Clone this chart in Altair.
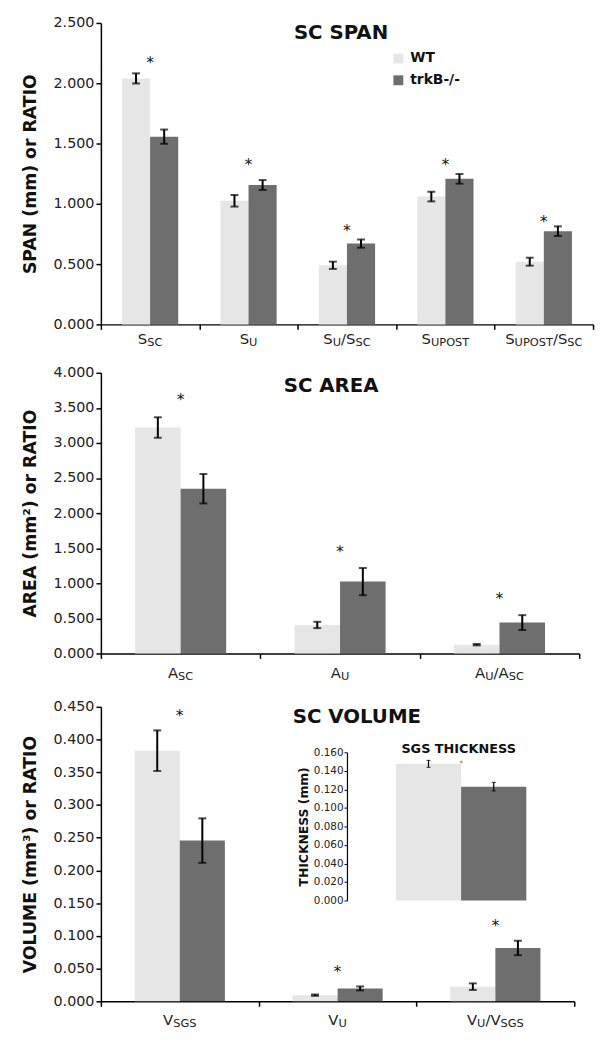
import altair as alt
import pandas as pd

FONT = "DejaVu Sans"
groups = ["WT", "trkB-/-"]
colors = ["#e6e6e6", "#6e6e6e"]

# ---- SC SPAN ----
span_cats = ["S_SC", "S_U", "S_U/S_SC", "S_UPOST", "S_UPOST/S_SC"]
span_wt = [2.04, 1.025, 0.49, 1.06, 0.52]
span_wt_err = [0.042, 0.048, 0.03, 0.04, 0.033]
span_ko = [1.557, 1.156, 0.67, 1.207, 0.773]
span_ko_err = [0.059, 0.041, 0.034, 0.04, 0.04]
span_star = [2.19, 1.347, 0.80, 1.344, 0.875]
span_ticks = [0.0, 0.5, 1.0, 1.5, 2.0, 2.5]

# ---- SC AREA ----
area_cats = ["A_SC", "A_U", "A_U/A_SC"]
area_wt = [3.22, 0.406, 0.125]
area_wt_err = [0.146, 0.045, 0.01]
area_ko = [2.348, 1.024, 0.44]
area_ko_err = [0.21, 0.194, 0.106]
area_star = [3.66, 1.49, 0.816]
area_ticks = [0.0, 0.5, 1.0, 1.5, 2.0, 2.5, 3.0, 3.5, 4.0]

# ---- SC VOLUME ----
vol_cats = ["V_SGS", "V_U", "V_U/V_SGS"]
vol_wt = [0.383, 0.0094, 0.0224]
vol_wt_err = [0.031, 0.001, 0.005]
vol_ko = [0.2456, 0.0197, 0.0815]
vol_ko_err = [0.034, 0.003, 0.011]
vol_star = [0.44, 0.0497, 0.119]
vol_ticks = [0.0, 0.05, 0.1, 0.15, 0.2, 0.25, 0.3, 0.35, 0.4, 0.45]

# ---- SGS THICKNESS (inset) ----
thick_wt = [0.1475]
thick_wt_err = [0.0037]
thick_ko = [0.1229]
thick_ko_err = [0.0046]
thick_star = [0.149]
thick_ticks = [0.0, 0.02, 0.04, 0.06, 0.08, 0.1, 0.12, 0.14, 0.16]

# DejaVu Sans advance widths (em)
CW = {"S": 0.635, "C": 0.698, "U": 0.732, "A": 0.684, "V": 0.684, "G": 0.775,
      "P": 0.603, "O": 0.787, "T": 0.611, "/": 0.337}


def segments(label):
    segs = []
    for i, piece in enumerate(label.split("/")):
        main, sub = piece.split("_")
        segs.append((("/" if i else "") + main, False))
        segs.append((sub, True))
    return segs


def frame(cats, wt, wt_err, ko, ko_err):
    rows = []
    for c, v, e in zip(cats, wt, wt_err):
        rows.append({"cat": c, "group": groups[0], "value": v, "lo": v - e, "hi": v + e})
    for c, v, e in zip(cats, ko, ko_err):
        rows.append({"cat": c, "group": groups[1], "value": v, "lo": v - e, "hi": v + e})
    return pd.DataFrame(rows)


def caps_frame(df):
    a = df[["cat", "group", "lo"]].rename(columns={"lo": "v"})
    b = df[["cat", "group", "hi"]].rename(columns={"hi": "v"})
    return pd.concat([a, b], ignore_index=True)


def panel(cats, wt, wt_err, ko, ko_err, stars, ticks, ytitle, title, W, H,
          title_pos, label_off, legend=None):
    df = frame(cats, wt, wt_err, ko, ko_err)
    caps = caps_frame(df)
    sdf = pd.DataFrame({"cat": cats, "star": stars})

    xenc = alt.X("cat:N", sort=cats,
                 scale=alt.Scale(domain=cats, paddingInner=0, paddingOuter=0),
                 axis=alt.Axis(title=None, labels=False, tickBand="extent",
                               tickSize=5, tickColor="black", tickWidth=1.5,
                               domainColor="black", domainWidth=1.5))
    xoff = alt.XOffset("group:N", sort=groups,
                       scale=alt.Scale(domain=groups, paddingInner=0, paddingOuter=0.75))
    yaxis = alt.Axis(values=ticks, format=".3f", title=ytitle, grid=False,
                     labelFontSize=14.5, labelColor="#222", labelFont=FONT,
                     tickSize=5, tickColor="black", tickWidth=1.5, labelPadding=2,
                     domainColor="black", domainWidth=1.5,
                     titleFontSize=17.5, titleFontWeight="bold", titleFont=FONT,
                     titleColor="#111", titlePadding=14)
    yscale = alt.Scale(domain=[0, ticks[-1]], nice=False, zero=True)

    color = alt.Color("group:N", sort=groups,
                      scale=alt.Scale(domain=groups, range=colors),
                      legend=legend)

    bars = alt.Chart(df).mark_bar().encode(
        x=xenc, xOffset=xoff,
        y=alt.Y("value:Q", scale=yscale, axis=yaxis),
        color=color)
    rules = alt.Chart(df).mark_rule(color="black", strokeWidth=2).encode(
        x=xenc, xOffset=xoff,
        y=alt.Y("lo:Q", scale=yscale, axis=yaxis), y2="hi:Q")
    capm = alt.Chart(caps).mark_tick(color="black", thickness=2, size=8).encode(
        x=xenc, xOffset=xoff,
        y=alt.Y("v:Q", scale=yscale, axis=yaxis))
    starm = alt.Chart(sdf).mark_text(text="*", fontSize=16, font=FONT,
                                     baseline="alphabetic", dy=8, color="#111").encode(
        x=xenc, y=alt.Y("star:Q", scale=yscale, axis=yaxis))
    tl = alt.Chart(pd.DataFrame({"t": [title]})).mark_text(
        fontSize=20, fontWeight="bold", font=FONT, baseline="middle",
        align="center", color="#111").encode(
        text="t:N", x=alt.value(title_pos[0]), y=alt.value(title_pos[1]))

    layers = [bars, rules, capm, starm, tl]
    main_fs, sub_fs = 15, 11.5
    for c in cats:
        segs = segments(c)
        widths = [sum(CW[ch] for ch in t) * (sub_fs if s else main_fs) for t, s in segs]
        x0 = -sum(widths) / 2
        for (t, s), w in zip(segs, widths):
            ldf = pd.DataFrame({"cat": [c], "t": [t]})
            layers.append(
                alt.Chart(ldf).mark_text(align="left", baseline="alphabetic", dx=x0,
                                         fontSize=sub_fs if s else main_fs, font=FONT,
                                         color="#222").encode(
                    x=xenc, y=alt.value(H + label_off + (1.5 if s else 0)), text="t:N"))
            x0 += w
    return alt.layer(*layers).properties(width=W, height=H)


leg = alt.Legend(orient="none", legendX=294, legendY=29, title=None,
                 labelFontSize=14, labelFontWeight="bold", labelFont=FONT,
                 labelColor="#111", symbolType="square", symbolSize=100,
                 symbolStrokeWidth=0, rowPadding=8, padding=0, labelOffset=5)

p1 = panel(span_cats, span_wt, span_wt_err, span_ko, span_ko_err, span_star,
           span_ticks, "SPAN (mm) or RATIO", "SC SPAN", 498, 305, (243, 10), 20, leg)
p2 = panel(area_cats, area_wt, area_wt_err, area_ko, area_ko_err, area_star,
           area_ticks, "AREA (mm²) or RATIO", "SC AREA", 484, 284, (233, 13), 25)
p3_main = panel(vol_cats, vol_wt, vol_wt_err, vol_ko, vol_ko_err, vol_star,
                vol_ticks, "VOLUME (mm³) or RATIO", "SC VOLUME", 479, 298, (259, 10), 24)

# inset
H3 = 298
ix0, ix1 = 249, 480
iy0, iy1 = 196, 46
idf = pd.DataFrame({"group": groups, "value": [thick_wt[0], thick_ko[0]],
                    "lo": [thick_wt[0] - thick_wt_err[0], thick_ko[0] - thick_ko_err[0]],
                    "hi": [thick_wt[0] + thick_wt_err[0], thick_ko[0] + thick_ko_err[0]]})
icaps = pd.concat([idf[["group", "lo"]].rename(columns={"lo": "v"}),
                   idf[["group", "hi"]].rename(columns={"hi": "v"})], ignore_index=True)
iscale_x = alt.Scale(domain=groups, range=[ix0, ix1], paddingInner=0, paddingOuter=0.75)
ixenc = alt.X("group:N", sort=groups, scale=iscale_x,
              axis=alt.Axis(orient="bottom", offset=-(H3 - iy0), labels=False, ticks=False,
                            title=None, domainColor="black", domainWidth=1.2))
iscale = alt.Scale(domain=[0, 0.16], range=[iy0, iy1], nice=False, zero=True)
iaxis = alt.Axis(orient="left", offset=-ix0, values=thick_ticks, format=".3f", grid=False,
                 labelFontSize=10.5, labelColor="#222", labelFont=FONT, tickSize=3,
                 tickColor="black", labelPadding=1, domainColor="black", domainWidth=1.2,
                 title="THICKNESS (mm)", titleFontSize=12.5, titleFontWeight="bold",
                 titleFont=FONT, titleColor="#111", titlePadding=3)
icolor = alt.Color("group:N", sort=groups, scale=alt.Scale(domain=groups, range=colors), legend=None)
ibars = alt.Chart(idf).mark_bar().encode(
    x=ixenc, y=alt.Y("value:Q", scale=iscale, axis=iaxis), color=icolor)
irules = alt.Chart(idf).mark_rule(color="black", strokeWidth=1.2).encode(
    x=ixenc, y=alt.Y("lo:Q", scale=iscale, axis=iaxis), y2="hi:Q")
icapm = alt.Chart(icaps).mark_tick(color="black", thickness=1.2, size=4).encode(
    x=ixenc, y=alt.Y("v:Q", scale=iscale, axis=iaxis))
istar = alt.Chart(pd.DataFrame({"group": [groups[0]], "star": thick_star})).mark_text(
    text="*", fontSize=6, font=FONT, baseline="alphabetic", dy=3, color="#111").encode(
    x=alt.X("group:N", sort=groups, scale=iscale_x, bandPosition=1, axis=None),
    y=alt.Y("star:Q", scale=iscale, axis=iaxis))
ititle = alt.Chart(pd.DataFrame({"t": ["SGS THICKNESS"]})).mark_text(
    fontSize=13, fontWeight="bold", font=FONT, baseline="middle", align="center",
    color="#111").encode(text="t:N", x=alt.value(362), y=alt.value(43))
inset = alt.layer(ibars, irules, icapm, istar, ititle)

p3 = alt.layer(p3_main, inset).resolve_scale(x="independent", y="independent")

chart = alt.vconcat(p1, p2, p3, spacing=17).resolve_scale(
    color="independent", xOffset="independent").resolve_legend(
    color="independent").properties(
    padding={"left": 13, "top": 1, "right": 2, "bottom": 5}
).configure(font=FONT).configure_view(stroke=None)

chart.save("out.html", embed_options={"renderer": "svg", "actions": False})
